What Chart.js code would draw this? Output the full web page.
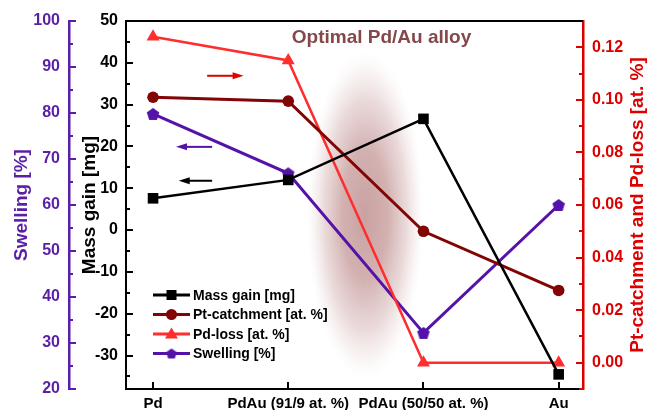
<!DOCTYPE html>
<html><head><meta charset="utf-8">
<script src="https://cdn.jsdelivr.net/npm/chart.js@4.4.0/dist/chart.umd.min.js"></script>
<style>html,body{margin:0;padding:0;background:#fff;}#wrap{width:648px;height:410px;}</style>
</head><body><div id="wrap"><canvas id="c" width="648" height="410"></canvas></div>
<script>
// ---- data ----
const categories = ['Pd', 'PdAu (91/9 at. %)', 'PdAu (50/50 at. %)', 'Au'];
const massGain = [7.6, 12.0, 26.6, -34.5];
const ptCatchment = [0.101, 0.0995, 0.050, 0.0275];
const pdLoss = [0.124, 0.115, 0.0, 0.0];
const swelling = [79.8, 66.9, 32.2, 60.0];
const massTicks = [-30, -20, -10, 0, 10, 20, 30, 40, 50];
const swellingTicks = [20, 30, 40, 50, 60, 70, 80, 90, 100];
const atTicks = [0, 0.02, 0.04, 0.06, 0.08, 0.10, 0.12];
const seriesLabels = ['Mass gain [mg]', 'Pt-catchment [at. %]', 'Pd-loss [at. %]', 'Swelling [%]'];
const rightTitle = 'Pt-catchment and Pd-loss [at. %]';

// ---- styles ----
const FONT = "'Liberation Sans', Arial, Helvetica, sans-serif";
const PURPLE_AXIS = '#5a1fa6';
const PURPLE = '#5512a8';
const RED_AXIS = '#dd0000';
const DARKRED = '#820404';
const RED = '#ff2d2d';
const BLACK = '#000000';
Chart.defaults.font.family = FONT;

function pentagon(size, color) {
  const c = document.createElement('canvas');
  c.width = size; c.height = size;
  const g = c.getContext('2d');
  const r = size * 0.47, cx = size / 2, cy = size / 2 + r * 0.095;
  g.beginPath();
  for (let i = 0; i < 5; i++) {
    const a = -Math.PI / 2 + i * 2 * Math.PI / 5;
    const px = cx + r * Math.cos(a), py = cy + r * Math.sin(a);
    i ? g.lineTo(px, py) : g.moveTo(px, py);
  }
  g.closePath(); g.fillStyle = color; g.fill();
  return c;
}
const pentBig = pentagon(14, PURPLE);
const pentSmall = pentagon(12, PURPLE);

const pts = arr => arr.map((v, i) => ({x: i, y: v}));

// annotations (placed in data coordinates)
const arrows = [
  {x0: 0.40, x1: 0.67, yv: 36.9, color: '#e00000'},
  {x0: 0.437, x1: 0.17, yv: 19.9, color: PURPLE},
  {x0: 0.437, x1: 0.19, yv: 11.8, color: BLACK}
];
const glow = {x: 1.57, y: 3.6, rx: 0.43, ry: 39};
const note = {x: 1.69, y: 44.7, text: 'Optimal Pd/Au alloy'};

function drawArrow(ctx, x0, x1, y, color) {
  const dir = Math.sign(x1 - x0);
  ctx.save();
  ctx.strokeStyle = color; ctx.fillStyle = color; ctx.lineWidth = 2;
  ctx.beginPath(); ctx.moveTo(x0, y); ctx.lineTo(x1 - dir * 8, y); ctx.stroke();
  ctx.beginPath(); ctx.moveTo(x1, y); ctx.lineTo(x1 - dir * 11, y - 3.5); ctx.lineTo(x1 - dir * 11, y + 3.5); ctx.closePath(); ctx.fill();
  ctx.restore();
}

function drawTickSet(ctx, scale, values, xLine, dir, len, color) {
  ctx.save(); ctx.strokeStyle = color; ctx.lineWidth = 2;
  values.forEach(v => {
    const y = Math.round(scale.getPixelForValue(v));
    ctx.beginPath(); ctx.moveTo(xLine, y); ctx.lineTo(xLine + dir * len, y); ctx.stroke();
  });
  ctx.restore();
}
const mids = t => t.slice(0, -1).map((v, i) => (v + t[i + 1]) / 2);

const decor = {
  id: 'decor',
  beforeDatasetsDraw(chart) {
    const {ctx, scales: {x, yMass}} = chart;
    const cx = x.getPixelForValue(glow.x), cy = yMass.getPixelForValue(glow.y);
    const rx = x.getPixelForValue(glow.x + glow.rx) - cx;
    const ry = cy - yMass.getPixelForValue(glow.y + glow.ry);
    ctx.save();
    ctx.translate(cx, cy); ctx.scale(1, ry / rx);
    const g = ctx.createRadialGradient(0, 0, 0, 0, 0, rx);
    g.addColorStop(0, 'rgba(160,88,88,0.56)');
    g.addColorStop(0.4, 'rgba(163,92,92,0.48)');
    g.addColorStop(0.7, 'rgba(178,118,118,0.28)');
    g.addColorStop(0.88, 'rgba(195,145,145,0.1)');
    g.addColorStop(1, 'rgba(215,175,175,0)');
    ctx.fillStyle = g;
    ctx.beginPath(); ctx.arc(0, 0, rx, 0, Math.PI * 2); ctx.fill();
    ctx.restore();
  },
  afterDraw(chart) {
    const {ctx, chartArea: ca, scales: {x, yMass, ySw, yRed}} = chart;
    // top border
    ctx.save(); ctx.strokeStyle = BLACK; ctx.lineWidth = 2;
    ctx.beginPath(); ctx.moveTo(ca.left, ca.top); ctx.lineTo(ca.right, ca.top); ctx.stroke();
    ctx.restore();
    // inward tick marks
    drawTickSet(ctx, yMass, massTicks, ca.left, 1, 7, BLACK);
    drawTickSet(ctx, yMass, mids(massTicks).concat([-35]), ca.left, 1, 4, BLACK);
    drawTickSet(ctx, ySw, swellingTicks, ySw.right, 1, 7, PURPLE_AXIS);
    drawTickSet(ctx, ySw, mids(swellingTicks), ySw.right, 1, 4, PURPLE_AXIS);
    drawTickSet(ctx, yRed, atTicks, yRed.left, -1, 7, RED_AXIS);
    drawTickSet(ctx, yRed, mids(atTicks).concat([-0.01 + 1e-9]), yRed.left, -1, 4, RED_AXIS);
    ctx.save(); ctx.strokeStyle = BLACK; ctx.lineWidth = 2;
    categories.forEach((c, i) => {
      const px = Math.round(x.getPixelForValue(i));
      ctx.beginPath(); ctx.moveTo(px, ca.bottom); ctx.lineTo(px, ca.bottom - 7); ctx.stroke();
    });
    ctx.restore();
    // right axis title (reads bottom-to-top)
    ctx.save();
    ctx.font = 'bold 19px ' + FONT; ctx.fillStyle = RED_AXIS; ctx.textAlign = 'center'; ctx.textBaseline = 'middle';
    ctx.translate(yRed.right - 10, (ca.top + ca.bottom) / 2);
    ctx.rotate(-Math.PI / 2);
    ctx.fillText(rightTitle, 0, 0);
    ctx.restore();
    // arrows
    arrows.forEach(a => drawArrow(ctx, x.getPixelForValue(a.x0), x.getPixelForValue(a.x1), yMass.getPixelForValue(a.yv), a.color));
    // note
    ctx.save();
    ctx.font = 'bold 19px ' + FONT; ctx.fillStyle = '#84474b'; ctx.textAlign = 'center'; ctx.textBaseline = 'alphabetic';
    ctx.fillText(note.text, x.getPixelForValue(note.x), yMass.getPixelForValue(note.y));
    ctx.restore();
    // legend
    const colors = [BLACK, DARKRED, RED, PURPLE];
    const lx0 = ca.left + 27, lx1 = ca.left + 64, lm = (lx0 + lx1) / 2;
    ctx.save();
    ctx.font = 'bold 14px ' + FONT; ctx.textBaseline = 'middle'; ctx.textAlign = 'left';
    seriesLabels.forEach((lab, i) => {
      const ly = ca.top + 274 + i * 19.5;
      ctx.strokeStyle = colors[i]; ctx.fillStyle = colors[i]; ctx.lineWidth = 3;
      ctx.beginPath(); ctx.moveTo(lx0, ly); ctx.lineTo(lx1, ly); ctx.stroke();
      ctx.beginPath();
      if (i === 0) ctx.fillRect(lm - 5, ly - 5, 10, 10);
      else if (i === 1) { ctx.arc(lm, ly, 5.5, 0, Math.PI * 2); ctx.fill(); }
      else if (i === 2) { ctx.moveTo(lm, ly - 6.5); ctx.lineTo(lm + 6.5, ly + 4.5); ctx.lineTo(lm - 6.5, ly + 4.5); ctx.closePath(); ctx.fill(); }
      else ctx.drawImage(pentSmall, lm - 6, ly - 6);
      ctx.fillStyle = BLACK;
      ctx.fillText(lab, lx1 + 3, ly + 1);
    });
    ctx.restore();
  }
};

const noGrid = {display: false, drawTicks: false};

new Chart(document.getElementById('c'), {
  type: 'line',
  data: {
    datasets: [
      {label: seriesLabels[0], data: pts(massGain), yAxisID: 'yMass', borderColor: BLACK, backgroundColor: BLACK,
       borderWidth: 2.5, pointStyle: 'rect', pointRadius: 7.5, pointBorderWidth: 0, pointBackgroundColor: BLACK},
      {label: seriesLabels[1], data: pts(ptCatchment), yAxisID: 'yRed', borderColor: DARKRED, backgroundColor: DARKRED,
       borderWidth: 3, pointStyle: 'circle', pointRadius: 5.8, pointBorderWidth: 0, pointBackgroundColor: DARKRED},
      {label: seriesLabels[2], data: pts(pdLoss), yAxisID: 'yRed', borderColor: RED, backgroundColor: RED,
       borderWidth: 2.5, pointStyle: 'triangle', pointRadius: 7.5, pointBorderWidth: 0, pointBackgroundColor: RED},
      {label: seriesLabels[3], data: pts(swelling), yAxisID: 'ySw', borderColor: PURPLE, backgroundColor: PURPLE,
       borderWidth: 3, pointStyle: pentBig, pointRadius: 7, pointBorderWidth: 0}
    ]
  },
  options: {
    responsive: false, animation: false, devicePixelRatio: 1,
    events: [],
    layout: {padding: {top: 21, left: 0, right: 0, bottom: 0}},
    plugins: {legend: {display: false}, tooltip: {enabled: false}},
    elements: {line: {tension: 0}},
    scales: {
      x: {type: 'linear', position: 'bottom', min: -0.2, max: 3.18,
          afterBuildTicks: s => { s.ticks = categories.map((c, i) => ({value: i})); },
          ticks: {autoSkip: false, maxRotation: 0, padding: 6, color: BLACK, font: {size: 15, weight: 'bold'},
                  callback: v => categories[v]},
          grid: noGrid, border: {display: true, color: BLACK, width: 2},
          afterFit: s => { s.height = 21; }},
      ySw: {type: 'linear', position: 'left', weight: 1, min: 20, max: 100,
          afterBuildTicks: s => { s.ticks = swellingTicks.map(v => ({value: v})); },
          ticks: {padding: 9, color: PURPLE_AXIS, font: {size: 16, weight: 'bold'}},
          grid: noGrid, border: {display: true, color: PURPLE_AXIS, width: 2.5},
          title: {display: true, text: 'Swelling [%]', color: PURPLE_AXIS, font: {size: 19, weight: 'bold'}, padding: {top: 10, bottom: 0}},
          afterFit: s => { s.width = 69; }},
      yMass: {type: 'linear', position: 'left', weight: 0, min: -38, max: 50,
          afterBuildTicks: s => { s.ticks = massTicks.map(v => ({value: v})); },
          ticks: {padding: 8, color: BLACK, font: {size: 16, weight: 'bold'}},
          grid: noGrid, border: {display: true, color: BLACK, width: 2},
          title: {display: true, text: 'Mass gain [mg]', color: BLACK, font: {size: 19, weight: 'bold'}, padding: {top: 9, bottom: 0}},
          afterFit: s => { s.width = 57; }},
      yRed: {type: 'linear', position: 'right', min: -0.01, max: 0.13,
          afterBuildTicks: s => { s.ticks = atTicks.map(v => ({value: v})); },
          ticks: {padding: 9, color: RED_AXIS, font: {size: 16, weight: 'bold'}, callback: v => v.toFixed(2)},
          grid: noGrid, border: {display: true, color: RED_AXIS, width: 2.5},
          afterFit: s => { s.width = 65; }}
    }
  },
  plugins: [decor]
});
</script></body></html>
